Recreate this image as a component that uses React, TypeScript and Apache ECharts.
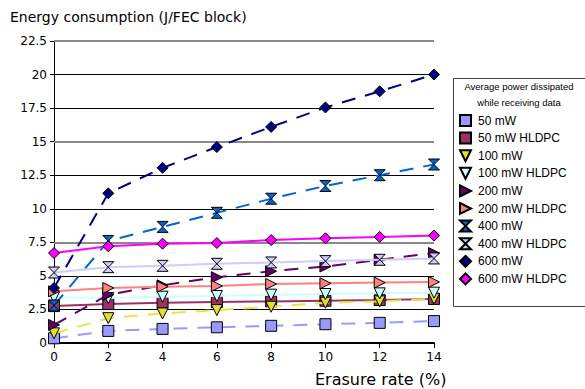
import React, { useEffect, useRef } from "react";
import * as echarts from "echarts";

const erasureRates = [0, 2, 4, 6, 8, 10, 12, 14];
const yTicks = [0, 2.5, 5, 7.5, 10, 12.5, 15, 17.5, 20, 22.5];

const p50 = [0.35, 0.9, 1.05, 1.17, 1.28, 1.4, 1.5, 1.63];
const p50H = [2.75, 2.9, 3.0, 3.05, 3.1, 3.15, 3.2, 3.28];
const p100 = [0.72, 1.85, 2.2, 2.45, 2.7, 3.0, 3.1, 3.3];
const p100H = [3.4, 3.35, 3.45, 3.5, 3.6, 3.65, 3.7, 3.75];
const p200 = [1.35, 3.6, 4.3, 4.9, 5.35, 5.7, 6.2, 6.7];
const p200H = [3.85, 4.1, 4.2, 4.25, 4.4, 4.45, 4.5, 4.55];
const p400 = [2.8, 7.6, 8.65, 9.7, 10.75, 11.7, 12.5, 13.3];
const p400H = [5.25, 5.65, 5.75, 5.9, 6.0, 6.1, 6.2, 6.3];
const p600 = [4.1, 11.15, 13.05, 14.6, 16.1, 17.55, 18.75, 20.0];
const p600H = [6.7, 7.2, 7.4, 7.45, 7.67, 7.8, 7.9, 8.0];

const SQUARE = "path://M0,0 L10,0 L10,10 L0,10 Z";
const DOWN = "path://M0,0 L10,0 L5,10 Z";
const RIGHT = "path://M0,0 L10,5 L0,10 Z";
const HOURGLASS = "path://M0,0 L10,0 L0,10 L10,10 Z";
const DIAMOND = "path://M5,0 L10,5 L5,10 L0,5 Z";

const seriesDefs = [
  { name: "50 mW", data: p50, fill: "#9999ff", line: "#9999ff", sym: SQUARE, dashed: true },
  { name: "50 mW HLDPC", data: p50H, fill: "#993366", line: "#993366", sym: SQUARE, dashed: false },
  { name: "100 mW", data: p100, fill: "#e0e030", line: "#e6e64a", sym: DOWN, dashed: true },
  { name: "100 mW HLDPC", data: p100H, fill: "#ccffff", line: "#ccffff", sym: DOWN, dashed: false },
  { name: "200 mW", data: p200, fill: "#660066", line: "#660066", sym: RIGHT, dashed: true },
  { name: "200 mW HLDPC", data: p200H, fill: "#ff8080", line: "#ff8080", sym: RIGHT, dashed: false },
  { name: "400 mW", data: p400, fill: "#0066cc", line: "#0066cc", sym: HOURGLASS, dashed: true },
  { name: "400 mW HLDPC", data: p400H, fill: "#ccccff", line: "#ccccff", sym: HOURGLASS, dashed: false },
  { name: "600 mW", data: p600, fill: "#000080", line: "#000080", sym: DIAMOND, dashed: true },
  { name: "600 mW HLDPC", data: p600H, fill: "#ff00ff", line: "#ff00ff", sym: DIAMOND, dashed: false },
];

export default function App() {
  const ref = useRef<HTMLDivElement>(null);
  useEffect(() => {
    if (!ref.current) return;
    const chart = echarts.init(ref.current, undefined, { renderer: "svg" });
    const series: any[] = seriesDefs.map((s, i) => ({
      name: s.name,
      type: "line",
      data: s.data.map((v, j) => [erasureRates[j], v]),
      symbol: s.sym,
      symbolSize: 11,
      showSymbol: true,
      itemStyle: { color: s.fill, borderColor: "#000", borderWidth: 1 },
      lineStyle: { color: s.line, width: 2, type: s.dashed ? [14, 10] : "solid" },
      z: 2 + i,
    }));
    series.push({
      name: "__grid",
      type: "line",
      data: [],
      z: 1,
      markLine: {
        silent: true,
        symbol: "none",
        label: { show: false },
        lineStyle: { color: "#888888", width: 2, type: "solid" },
        data: [{ yAxis: 7.5 }, { yAxis: 15 }, { yAxis: 22.5 }],
      },
    });
    chart.setOption({
      animation: false,
      grid: { left: 54, right: 151, top: 41, bottom: 46 },
      xAxis: {
        type: "value",
        min: 0,
        max: 14,
        interval: 2,
        axisLine: { show: true, lineStyle: { color: "#000", width: 2 } },
        axisTick: { show: true, length: 5, lineStyle: { color: "#000" } },
        axisLabel: { color: "#000", fontSize: 12, fontFamily: "DejaVu Sans", margin: 8 },
        splitLine: { show: false },
      },
      yAxis: {
        type: "value",
        min: yTicks[0],
        max: yTicks[yTicks.length - 1],
        interval: 2.5,
        axisLine: { show: true, lineStyle: { color: "#000", width: 1 } },
        axisTick: { show: true, length: 4, lineStyle: { color: "#000" } },
        axisLabel: { color: "#000", fontSize: 12, fontFamily: "DejaVu Sans", margin: 7 },
        splitLine: { show: true, lineStyle: { color: "#000", width: 1 } },
      },
      legend: {
        orient: "vertical",
        left: 459,
        top: 114,
        itemWidth: 11,
        itemHeight: 11,
        itemGap: 4.6,
        padding: 0,
        textStyle: { fontSize: 12, fontFamily: "Liberation Sans", color: "#000", lineHeight: 11, padding: [0, 0, 0, 2] },
        data: seriesDefs.map((s) => ({ name: s.name, icon: s.sym })),
      },
      graphic: [
        {
          type: "rect",
          shape: { x: 453.5, y: 78.5, width: 140, height: 228 },
          style: { fill: "#fff", stroke: "#404040", lineWidth: 1 },
          z: 0,
        },
        {
          type: "text",
          x: 519,
          y: 78,
          style: {
            text: "Average power dissipated\nwhile receiving data",
            fontSize: 9.5,
            fontFamily: "Liberation Sans",
            fill: "#000",
            align: "center",
            lineHeight: 16,
          },
        },
        {
          type: "text",
          x: 10,
          y: 10,
          style: { text: "Energy consumption (J/FEC block)", fontSize: 14, fontFamily: "DejaVu Sans", fill: "#000" },
        },
        {
          type: "text",
          x: 315,
          y: 371,
          style: { text: "Erasure rate (%)", fontSize: 16, fontFamily: "DejaVu Sans", fill: "#000" },
        },
      ],
      series,
    });
    return () => chart.dispose();
  }, []);
  return <div ref={ref} style={{ width: 585, height: 389, position: "absolute", left: 0, top: 0 }} />;
}
